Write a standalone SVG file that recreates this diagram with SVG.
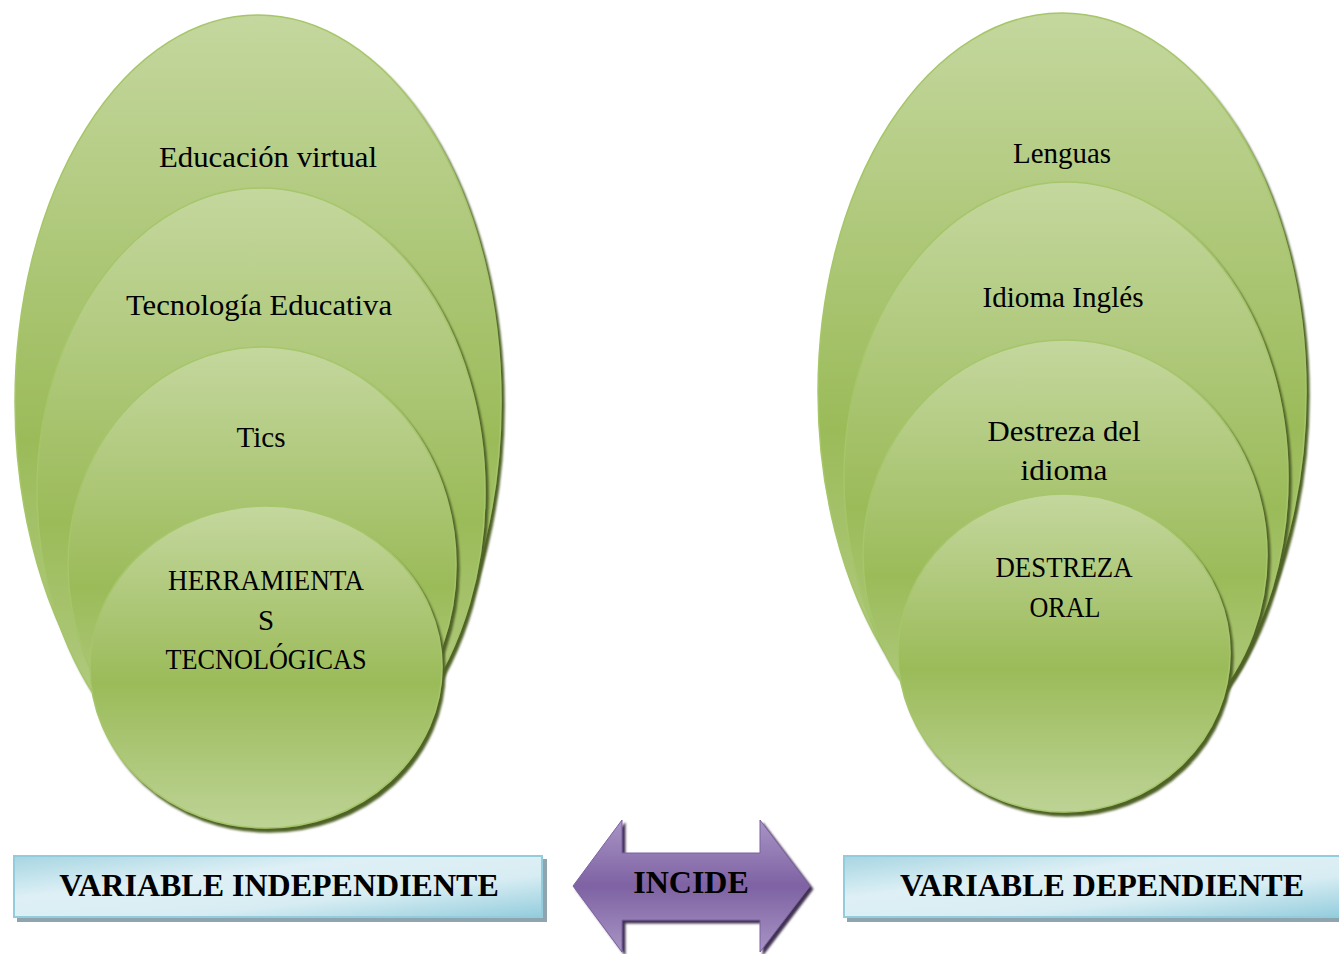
<svg xmlns="http://www.w3.org/2000/svg" width="1339" height="954" viewBox="0 0 1339 954">
<style>
.lbl{font-family:"Liberation Serif","Times New Roman",serif;font-size:29px;fill:#000;text-anchor:middle}
.ttl{font-family:"Liberation Serif","Times New Roman",serif;font-size:32px;font-weight:bold;fill:#000;text-anchor:middle}
.ell{fill:url(#gG);stroke:#a6c66a;stroke-width:1.5;filter:url(#sh)}
.box{fill:url(#gB);stroke:#93cddd;stroke-width:2;filter:url(#shB)}
</style>
<defs>
<linearGradient id="gG" x1="0" y1="0" x2="0" y2="1">
<stop offset="0" stop-color="#c4d79e"/>
<stop offset="0.55" stop-color="#9bbb59"/>
<stop offset="1" stop-color="#bdd395"/>
</linearGradient>
<linearGradient id="gB" x1="0" y1="0" x2="1" y2="1">
<stop offset="0" stop-color="#a6d5e2"/>
<stop offset="0.35" stop-color="#def0f5"/>
<stop offset="0.65" stop-color="#d8edf3"/>
<stop offset="1" stop-color="#93cddd"/>
</linearGradient>
<linearGradient id="gP" x1="0" y1="0" x2="0" y2="1">
<stop offset="0" stop-color="#a894c4"/>
<stop offset="0.5" stop-color="#7e62a3"/>
<stop offset="1" stop-color="#a894c4"/>
</linearGradient>
<filter id="sh" x="-10%" y="-10%" width="120%" height="120%">
<feDropShadow dx="3" dy="4" stdDeviation="1" flood-color="#4f6228" flood-opacity="1"/>
</filter>
<filter id="shB" x="-5%" y="-20%" width="110%" height="150%">
<feDropShadow dx="4" dy="4" stdDeviation="0.5" flood-color="#8ea4ae" flood-opacity="1"/>
</filter>
<filter id="shP" x="-10%" y="-10%" width="120%" height="120%">
<feDropShadow dx="3" dy="3" stdDeviation="1" flood-color="#3f3151" flood-opacity="1"/>
</filter>
</defs>

<g id="left-1"><ellipse class="ell" cx="258" cy="402" rx="243" ry="387"/><text class="lbl" x="268" y="167" textLength="218" lengthAdjust="spacingAndGlyphs">Educación virtual</text></g>
<g id="left-2"><ellipse class="ell" cx="261" cy="492" rx="224" ry="304"/><text class="lbl" x="259" y="315" textLength="266" lengthAdjust="spacingAndGlyphs">Tecnología Educativa</text></g>
<g id="left-3"><ellipse class="ell" cx="262" cy="565" rx="194" ry="218"/><text class="lbl" x="261" y="447" textLength="49" lengthAdjust="spacingAndGlyphs">Tics</text></g>
<g id="left-4"><ellipse class="ell" cx="266" cy="667" rx="176" ry="161"/><text class="lbl" x="266" y="590" textLength="196" lengthAdjust="spacingAndGlyphs">HERRAMIENTA</text><text class="lbl" x="266" y="630">S</text><text class="lbl" x="266" y="669" textLength="201" lengthAdjust="spacingAndGlyphs">TECNOLÓGICAS</text></g>

<g id="right-1"><ellipse class="ell" cx="1062" cy="392" rx="244" ry="379"/><text class="lbl" x="1062" y="163" textLength="98" lengthAdjust="spacingAndGlyphs">Lenguas</text></g>
<g id="right-2"><ellipse class="ell" cx="1066" cy="478" rx="222" ry="296"/><text class="lbl" x="1063" y="307" textLength="161" lengthAdjust="spacingAndGlyphs">Idioma Inglés</text></g>
<g id="right-3"><ellipse class="ell" cx="1065" cy="555" rx="202" ry="215"/><text class="lbl" x="1064" y="441" textLength="153" lengthAdjust="spacingAndGlyphs">Destreza del</text><text class="lbl" x="1064" y="480" textLength="87" lengthAdjust="spacingAndGlyphs">idioma</text></g>
<g id="right-4"><ellipse class="ell" cx="1064" cy="653" rx="166" ry="159"/><text class="lbl" x="1064" y="577" textLength="137" lengthAdjust="spacingAndGlyphs">DESTREZA</text><text class="lbl" x="1065" y="617" textLength="71" lengthAdjust="spacingAndGlyphs">ORAL</text></g>

<g id="box-independiente"><rect class="box" x="14" y="856" width="528" height="61"/><text class="ttl" x="279" y="896">VARIABLE INDEPENDIENTE</text></g>
<g id="box-dependiente"><rect class="box" x="844" y="856" width="500" height="61"/><text class="ttl" x="1102" y="896">VARIABLE DEPENDIENTE</text></g>

<g id="connectors">
<g id="incide"><path d="M573 886 L622 820 L622 853 L760 853 L760 820 L810 886 L760 952 L760 920 L622 920 L622 952 Z" fill="url(#gP)" stroke="#7a60a0" stroke-width="1" filter="url(#shP)"/><text class="ttl" x="691" y="893">INCIDE</text></g>
</g>
</svg>
